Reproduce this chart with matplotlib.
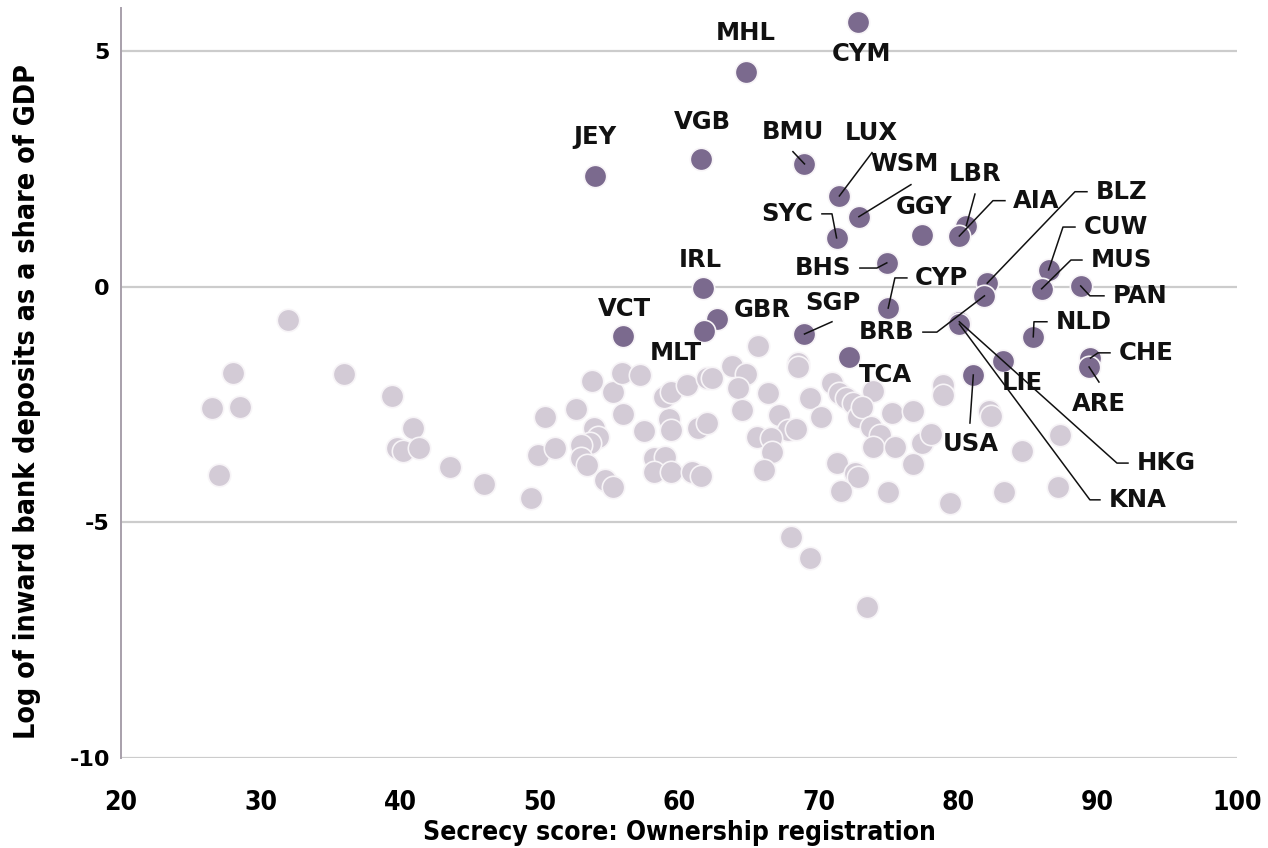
import matplotlib
matplotlib.use("Agg")
import matplotlib.pyplot as plt

# secrecy score vs log inward bank deposits / GDP
# unlabelled jurisdictions
light_x = [32.0, 28.0, 26.5, 28.5, 27.0, 36.0, 39.4, 40.9, 39.8, 40.2,
           41.4, 43.6, 46.0, 49.4, 49.9, 51.1, 50.4, 52.6, 53.8, 55.3,
           55.9, 57.2, 56.0, 53.9, 54.2, 53.6, 53.0, 53.0, 53.4, 54.7,
           55.3, 57.5, 58.2, 59.0, 58.2, 59.4, 59.3, 59.4, 58.9, 59.4,
           60.6, 61.4, 60.9, 61.6, 62.0, 62.4, 62.0, 65.7, 63.8, 64.8,
           64.2, 66.4, 64.5, 67.2, 68.5, 68.5, 69.4, 70.2, 71.0, 71.5,
           72.0, 72.5, 72.8, 67.8, 68.4, 65.6, 66.6, 66.7, 66.1, 71.3,
           72.6, 72.8, 71.6, 68.0, 69.4, 73.5, 73.9, 73.1, 75.3, 76.8,
           78.9, 78.9, 82.2, 82.4, 73.8, 74.4, 73.9, 75.5, 77.4, 78.1,
           76.8, 84.6, 87.3, 75.0, 79.4, 83.3, 87.2]
light_y = [-0.70, -1.83, -2.57, -2.55, -3.99, -1.85, -2.31, -2.99, -3.42, -3.48,
           -3.42, -3.82, -4.18, -4.48, -3.57, -3.42, -2.76, -2.59, -2.00, -2.23,
           -1.83, -1.87, -2.70, -2.99, -3.18, -3.31, -3.35, -3.63, -3.78, -4.10,
           -4.25, -3.06, -3.63, -3.61, -3.93, -3.93, -2.80, -3.04, -2.34, -2.23,
           -2.08, -2.99, -3.93, -4.01, -1.93, -1.93, -2.89, -1.25, -1.68, -1.85,
           -2.14, -2.25, -2.61, -2.72, -1.61, -1.70, -2.36, -2.76, -2.04, -2.25,
           -2.36, -2.46, -2.76, -3.04, -3.01, -3.18, -3.21, -3.50, -3.89, -3.74,
           -3.95, -4.03, -4.33, -5.31, -5.75, -6.79, -2.21, -2.55, -2.68, -2.63,
           -2.08, -2.29, -2.63, -2.74, -2.97, -3.14, -3.40, -3.40, -3.31, -3.12,
           -3.76, -3.48, -3.14, -4.35, -4.59, -4.35, -4.25]

# labelled jurisdictions
codes = ["CYM", "MHL", "JEY", "VGB", "BMU", "LUX", "WSM", "SYC", "GGY", "LBR",
         "AIA", "BHS", "CYP", "BLZ", "BRB", "CUW", "MUS", "PAN", "NLD", "CHE",
         "ARE", "HKG", "KNA", "LIE", "USA", "TCA", "SGP", "IRL", "GBR", "MLT", "VCT"]
dark_x = [72.8, 64.8, 54.0, 61.6, 69.0, 71.5, 72.9, 71.3, 77.4, 80.6,
          80.1, 74.9, 75.0, 82.1, 81.9, 86.5, 86.0, 88.8, 85.4, 89.5,
          89.4, 80.1, 80.1, 83.2, 81.1, 72.2, 69.0, 61.7, 62.7, 61.8, 56.0]
dark_y = [5.63, 4.56, 2.36, 2.72, 2.61, 1.93, 1.49, 1.04, 1.10, 1.30,
          1.08, 0.51, -0.45, 0.08, -0.19, 0.36, -0.04, 0.02, -1.06, -1.51,
          -1.70, -0.74, -0.79, -1.57, -1.87, -1.49, -1.00, -0.02, -0.68, -0.93, -1.04]

x_ticks = [20, 30, 40, 50, 60, 70, 80, 90, 100]
y_ticks = [-10, -5, 0, 5]

# free-standing labels (text centre)
label_pos = {
    "MHL": (64.8, 5.39), "CYM": (73.1, 4.95), "JEY": (54.0, 3.18), "VGB": (61.65, 3.50),
    "BMU": (68.2, 3.29), "LUX": (73.8, 3.27), "WSM": (76.2, 2.61), "GGY": (77.6, 1.70),
    "LBR": (81.2, 2.40), "ARE": (90.1, -2.48), "LIE": (84.6, -2.04), "USA": (80.9, -3.33),
    "TCA": (74.8, -1.87), "SGP": (71.0, -0.34), "IRL": (61.5, 0.57), "GBR": (66.0, -0.49),
    "MLT": (59.8, -1.40), "VCT": (56.1, -0.47),
}
# leader waypoints, starting at the label end
leaders = {
    "BMU": [(68.17, 2.87)],
    "LUX": [(73.84, 2.85)],
    "WSM": [(76.63, 2.17)],
    "SYC": [(70.25, 1.55), (70.97, 1.55)],
    "LBR": [(81.22, 1.97)],
    "AIA": [(83.37, 1.83), (82.51, 1.83)],
    "BLZ": [(89.25, 2.02), (88.39, 2.02)],
    "CUW": [(88.39, 1.27), (87.53, 1.27)],
    "MUS": [(88.89, 0.57), (88.10, 0.57)],
    "PAN": [(90.47, -0.19), (89.46, -0.19)],
    "CYP": [(76.34, 0.19), (75.48, 0.19)],
    "BHS": [(72.97, 0.40), (74.19, 0.40)],
    "BRB": [(77.49, -0.96), (78.49, -0.96)],
    "NLD": [(86.38, -0.74), (85.45, -0.74)],
    "CHE": [(90.90, -1.40), (90.04, -1.40)],
    "ARE": [(90.11, -2.02)],
    "HKG": [(92.19, -3.74), (91.40, -3.74)],
    "KNA": [(90.18, -4.52), (89.46, -4.52)],
    "USA": [(80.86, -2.89)],
    "SGP": [(70.97, -0.74)],
}
text_right = ["AIA", "BLZ", "CUW", "MUS", "PAN", "CYP", "NLD", "CHE", "HKG", "KNA"]
text_left = ["SYC", "BHS", "BRB"]

plt.rcParams['axes.unicode_minus'] = False
narrow = dict(family="DejaVu Sans", stretch="condensed", weight="bold")

fig = plt.figure(figsize=(12.68, 8.48), dpi=100)
ax = fig.add_axes([0.0954, 0.1061, 0.8801, 0.8845])

ax.scatter(light_x, light_y, s=260, color="#d3cbd6", edgecolor="#f7f4f7",
           linewidth=1.2, zorder=3)
ax.scatter(dark_x, dark_y, s=260, color="#7b6a8e", edgecolor="#f7f4f7",
           linewidth=1.2, zorder=4)

for code, px, py in zip(codes, dark_x, dark_y):
    style = dict(va="center", fontsize=17.5, fontweight="bold",
                 family="DejaVu Sans", color="#111111", zorder=6)
    if code in text_right:
        ax.annotate(code, leaders[code][0], xytext=(6, 0), textcoords="offset points",
                    ha="left", **style)
    elif code in text_left:
        ax.annotate(code, leaders[code][0], xytext=(-6, 0), textcoords="offset points",
                    ha="right", **style)
    else:
        ax.text(*label_pos[code], code, ha="center", **style)
    if code in leaders:
        path = leaders[code] + [(px, py)]
        ax.plot([p[0] for p in path], [p[1] for p in path], color="#111111",
                lw=1.1, zorder=5)

ax.set_xlim(20, 100)
ax.set_ylim(-10, 5.92)
ax.set_xticks(x_ticks)
ax.set_yticks(y_ticks)
ax.set_xticklabels([str(t) for t in x_ticks], fontsize=19, **narrow)
ax.set_yticklabels([str(t) for t in y_ticks], fontsize=16, fontweight="bold", family="DejaVu Sans")
ax.tick_params(axis="x", length=0, pad=23)
ax.tick_params(axis="y", length=0, pad=8)

for t in y_ticks:
    ax.axhline(t, color="#cccccc", lw=1.6, zorder=1)

for s in ["top", "right", "bottom"]:
    ax.spines[s].set_visible(False)
ax.spines["left"].set_color("#a8a0ab")
ax.spines["left"].set_linewidth(1.4)

ax.set_xlabel("Secrecy score: Ownership registration", fontsize=19, **narrow)
ax.set_ylabel("Log of inward bank deposits as a share of GDP", fontsize=20.5, **narrow)
ax.xaxis.set_label_coords(0.5, -0.083)
ax.yaxis.set_label_coords(-0.072, 0.475)

fig.savefig("out.png", dpi=100)
